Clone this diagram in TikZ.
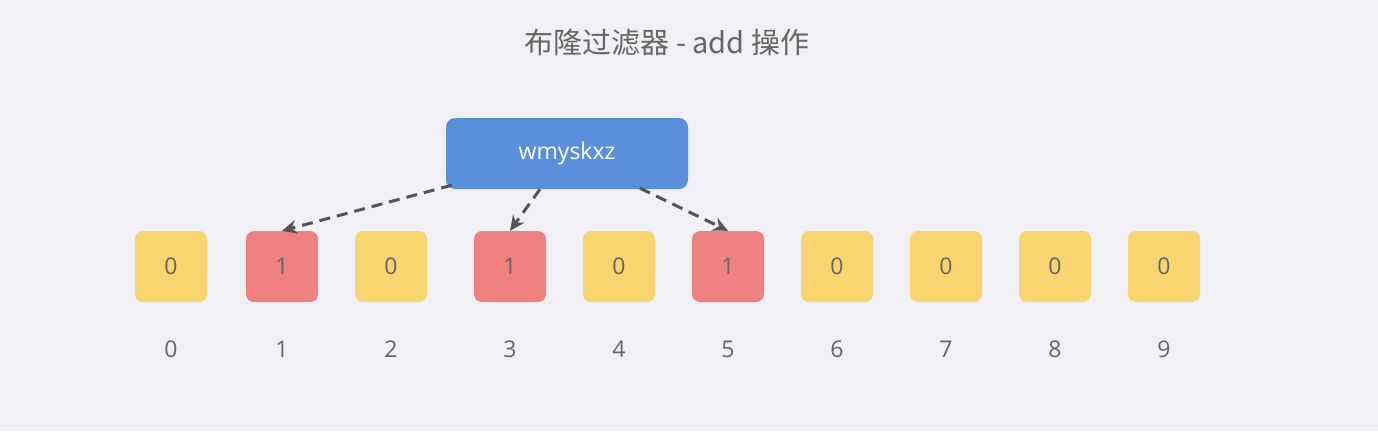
\documentclass[tikz,border=0pt]{standalone}
\usepackage{fontspec}
\usetikzlibrary{arrows.meta}
\setmainfont{Open Sans}
\newfontfamily\cjk{Noto Sans CJK SC}
\definecolor{bgc}{HTML}{F0F0F5}
\definecolor{zerofill}{HTML}{F8D56E}
\definecolor{onefill}{HTML}{EF8280}
\definecolor{keyfill}{HTML}{5A8FDB}
\definecolor{txtc}{HTML}{666666}
\definecolor{arrc}{HTML}{555555}
\begin{document}
\begin{tikzpicture}[x=1pt,y=-1pt, line join=round, >=stealth,
	bit/.style={minimum width=72pt,minimum height=71pt,rounded corners=8pt,inner sep=0pt,font=\fontsize{23}{23}\selectfont,text=txtc},
	keybox/.style={fill=keyfill,minimum width=242pt,minimum height=71pt,rounded corners=9pt,text=white,font=\fontsize{23}{23}\selectfont},
	hashline/.style={arrc,line width=3pt,dash pattern=on 11pt off 7pt,-{Stealth[length=15pt,width=14pt]}}]
	\fill[bgc] (0,0) rectangle (1378,431);
	\useasboundingbox (0,0) rectangle (1378,431);
	\node[text=txtc,font=\cjk\fontsize{29}{29}\selectfont] (title) at (667,43) {布隆过滤器 - add 操作};
	\node[keybox] (key) at (567,153.5) {wmyskxz};
	\foreach \i/\x/\v in {0/171/0,1/282/1,2/391/0,3/510/1,4/619/0,5/728/1,6/837/0,7/946/0,8/1055/0,9/1164/0}{
		\ifnum\v=1 \def\bitfill{onefill}\else \def\bitfill{zerofill}\fi
		\node[bit,fill=\bitfill] (b\i) at (\x,266.5) {\v};
		\node[text=txtc,font=\fontsize{23}{23}\selectfont] (n\i) at (\x,349) {\i};
	}
	\draw[hashline] ([xshift=6pt,yshift=4pt]key.south west)--(b1.north);
	\draw[hashline] ([xshift=-27pt]key.south)--(b3.north);
	\draw[hashline] ([xshift=73pt,yshift=1pt]key.south)--(b5.north);
\end{tikzpicture}
\end{document}
